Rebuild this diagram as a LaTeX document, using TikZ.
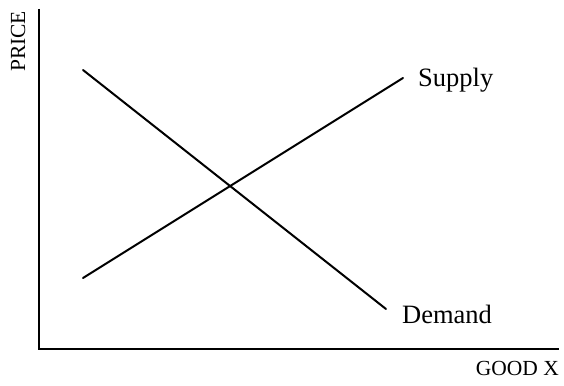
\documentclass[tikz,border=0pt]{standalone}
\usepackage{fontspec}
\setmainfont{Liberation Serif}
\begin{document}
\begin{tikzpicture}[x=1pt,y=-1pt,
  axisline/.style={line width=2pt},
  curve/.style={line width=2pt, line cap=round},
  biglabel/.style={inner sep=0pt, font=\fontsize{26.5}{30}\selectfont},
  axislabel/.style={inner sep=0pt, font=\fontsize{21.5}{24}\selectfont}]
\useasboundingbox (0,0) rectangle (564,385);
\coordinate (top) at (39,9);
\coordinate (origin) at (39,349);
\coordinate (right) at (559,349);
\draw[axisline] (top) -- (origin) -- (right);
\coordinate (s1) at (83,278);
\coordinate (s2) at (403,78);
\coordinate (d1) at (83,70);
\coordinate (d2) at (386,309);
\draw[curve] (s1) -- (s2);
\draw[curve] (d1) -- (d2);
\node[biglabel, anchor=base west] (supply) at (418,87) {Supply};
\node[biglabel, anchor=base west] (demand) at (402,323) {Demand};
\node[axislabel, anchor=base east] (goodx) at (559,375) {GOOD X};
\node[axislabel, anchor=base west, rotate=90] (price) at (25,72) {PRICE};
\end{tikzpicture}
\end{document}
